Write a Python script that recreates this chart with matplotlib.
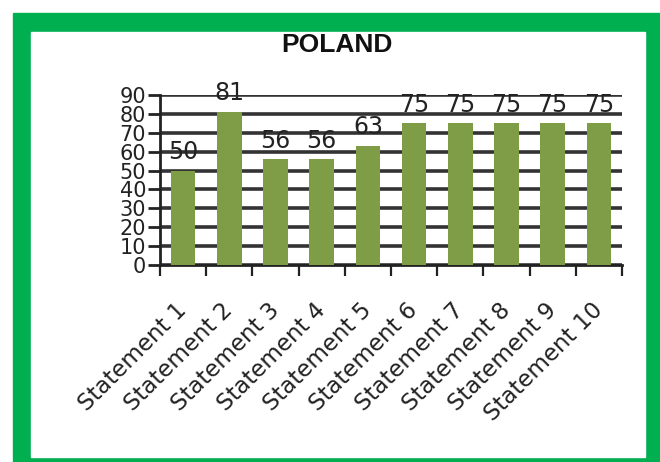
import matplotlib
matplotlib.use("Agg")
import matplotlib.pyplot as plt
from matplotlib.patches import Rectangle
import numpy as np

categories = ["Statement 1", "Statement 2", "Statement 3", "Statement 4", "Statement 5",
              "Statement 6", "Statement 7", "Statement 8", "Statement 9", "Statement 10"]
values = [50, 81, 56, 56, 63, 75, 75, 75, 75, 75]
y_ticks = [0, 10, 20, 30, 40, 50, 60, 70, 80, 90]
title = "POLAND"

W, H = 660, 462
fig = plt.figure(figsize=(W / 100, H / 100), dpi=100)
fig.patch.set_facecolor("white")

# green frame around the chart
green = "#00AF50"
fig.patches.append(Rectangle((13 / W, 0), 1 - 13 / W, 1 - 13 / H,
                             transform=fig.transFigure, color=green, zorder=-2))
fig.patches.append(Rectangle((31 / W, 5 / H), (645 - 31) / W, (457 - 32) / H,
                             transform=fig.transFigure, color="white", zorder=-1))

ax = fig.add_axes([160 / W, (H - 265) / H, (622 - 160) / W, (265 - 95) / H])
ax.set_facecolor("none")
ax.set_zorder(1)

x = np.arange(len(categories))
bars = ax.bar(x, values, width=0.53, color="#7F9C46", zorder=3)

for xi, v in zip(x, values):
    ax.text(xi, v + 3.5, str(v), ha="center", va="bottom", fontsize=17,
            color="#222222", zorder=2, family="DejaVu Sans")

ax.set_xlim(-0.5, len(categories) - 0.5)
ax.set_ylim(0, 90)
ax.set_yticks(y_ticks)
ax.set_yticklabels([str(t) for t in y_ticks], fontsize=15, color="#222222")
ax.yaxis.grid(True, color="#333333", linewidth=2.6, zorder=1)
ax.set_axisbelow(True)

ax.set_xticks(x)
ax.set_xticklabels(categories, rotation=45, ha="right", va="center",
                   rotation_mode="anchor", fontsize=16.5, family="DejaVu Sans",
                   color="#222222")
ax.tick_params(axis="x", which="major", length=0, pad=30)
ax.set_xticks(np.arange(-0.5, len(categories)), minor=True)
ax.tick_params(axis="x", which="minor", length=8, width=1.6, color="#222222")
ax.tick_params(axis="y", length=9, width=2, color="#222222", pad=1)

for s in ["top", "right"]:
    ax.spines[s].set_visible(False)
ax.spines["left"].set_linewidth(2)
ax.spines["bottom"].set_linewidth(2)
ax.spines["left"].set_color("#222222")
ax.spines["bottom"].set_color("#222222")

fig.text(337 / W, 1 - 45 / H, title, ha="center", va="center", fontsize=19,
         fontweight="bold", family="Liberation Sans", color="#111111")

fig.savefig("out.png", dpi=100)
